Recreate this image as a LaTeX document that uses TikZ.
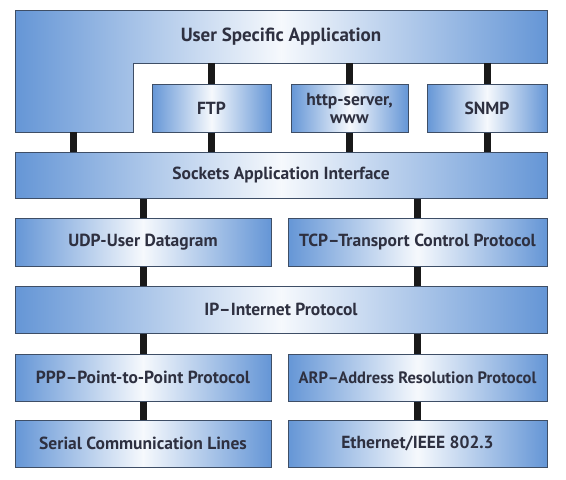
\documentclass[tikz,border=0pt]{standalone}
\usepackage{fontspec}
\setmainfont{PT Sans}
\usepackage{tikz}
\definecolor{bleu}{HTML}{6596D6}
\definecolor{bord}{HTML}{3E4E66}
\definecolor{texte}{HTML}{2E3040}
\tikzset{couche/.style={
    draw=bord,
    line width=1pt,
    left color=bleu,
    right color=bleu,
    middle color=white!94!bleu,
    text=texte,
    font=\bfseries\fontsize{17.5}{18}\selectfont,
    align=center,
    inner sep=0pt}}
\tikzset{titre/.style={
    text=texte,
    font=\bfseries\fontsize{19}{20}\selectfont,
    inner sep=0pt}}
\tikzset{lien/.style={
    draw=black!90,
    line width=7pt}}

\begin{document}
\begin{tikzpicture}[x=1pt,y=-1pt]
\useasboundingbox[fill=white] (0,0) rectangle (566,480);

\path[couche] (15,10) -- (547,10) -- (547,63) -- (133,63) -- (133,132) -- (15,132) -- cycle;
\node[titre,minimum width=532,minimum height=53] (usa) at (281,36.5) {User Specific Application};
\coordinate (leg) at (73,132);

	\node[couche,minimum width=119,minimum height=48] (ftp) at (211.5,108) {FTP};
	\node[couche,minimum width=117,minimum height=48] (http) at (349.5,108) {http-server,\\www};
	\node[couche,minimum width=120,minimum height=48] (snmp) at (487,108) {SNMP};

	\node[couche,minimum width=532,minimum height=46] (sockets) at (281,175) {Sockets Application Interface};

	\node[couche,minimum width=256,minimum height=48] (udp) at (143,242) {UDP-User Datagram};
	\node[couche,minimum width=259,minimum height=48] (tcp) at (417.5,242) {TCP–Transport Control Protocol};

	\node[couche,minimum width=532,minimum height=47] (ip) at (281,309.5) {IP–Internet Protocol};

	\node[couche,minimum width=256,minimum height=47] (ppp) at (143,377.5) {PPP–Point-to-Point Protocol};
	\node[couche,minimum width=259,minimum height=47,font=\bfseries\fontsize{16.5}{18}\selectfont] (arp) at (417.5,377.5) {ARP–Address Resolution Protocol};

	\node[couche,minimum width=256,minimum height=47] (serial) at (143,443.5) {Serial Communication Lines};
	\node[couche,minimum width=259,minimum height=47] (eth) at (417.5,443.5) {Ethernet/IEEE 802.3};

	\draw[lien] (ftp.north) -- (ftp.north |- usa.south);
	\draw[lien] (http.north) -- (http.north |- usa.south);
	\draw[lien] (snmp.north) -- (snmp.north |- usa.south);
	\draw[lien] (leg) -- (leg |- sockets.north);
	\draw[lien] (ftp.south) -- (ftp.south |- sockets.north);
	\draw[lien] (http.south) -- (http.south |- sockets.north);
	\draw[lien] (snmp.south) -- (snmp.south |- sockets.north);
	\draw[lien] (udp.north) -- (udp.north |- sockets.south);
	\draw[lien] (tcp.north) -- (tcp.north |- sockets.south);
	\draw[lien] (udp.south) -- (udp.south |- ip.north);
	\draw[lien] (tcp.south) -- (tcp.south |- ip.north);
	\draw[lien] (ppp.north) -- (ppp.north |- ip.south);
	\draw[lien] (arp.north) -- (arp.north |- ip.south);
	\draw[lien] (ppp) -- (serial);
	\draw[lien] (arp) -- (eth);
\end{tikzpicture}
\end{document}
